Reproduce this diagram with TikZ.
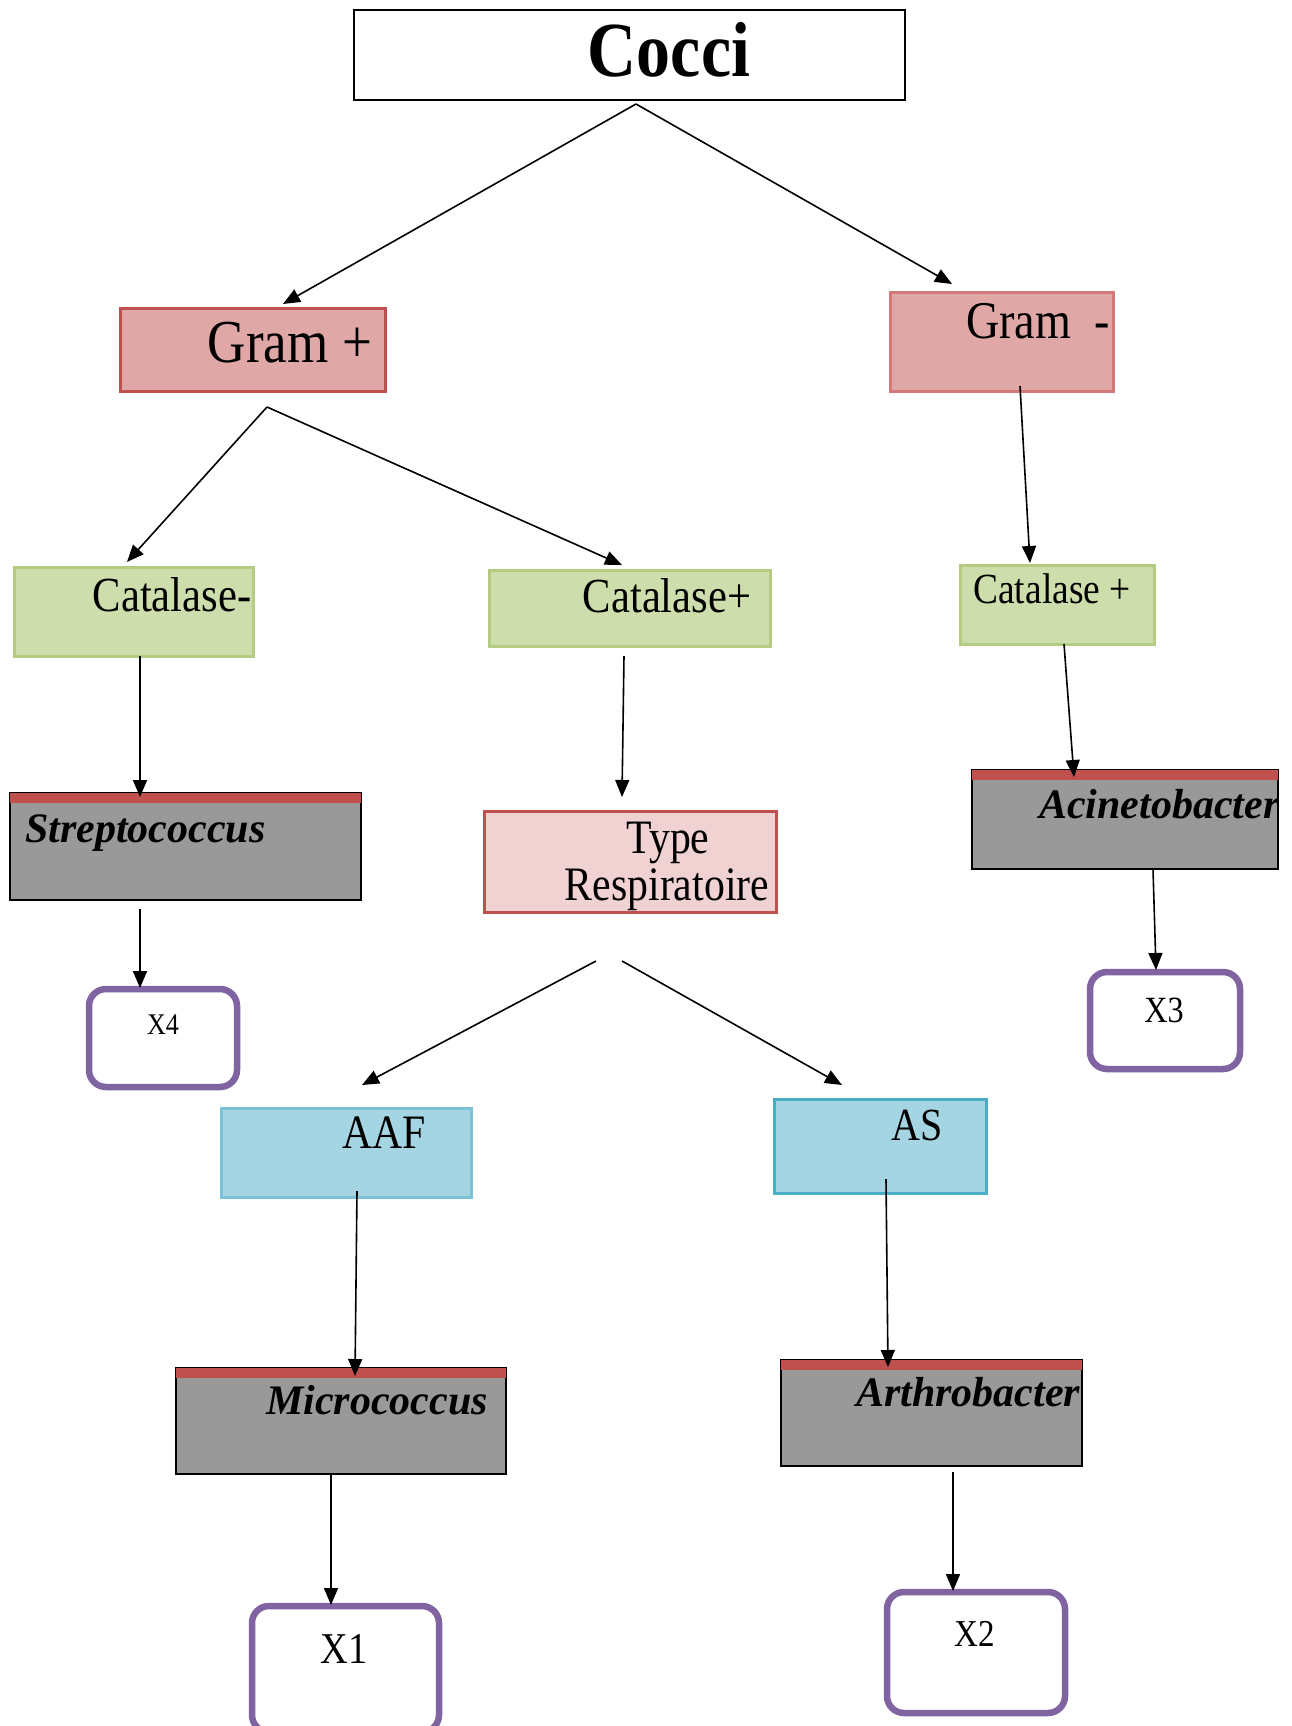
\documentclass[tikz,border=0pt]{standalone}
\usepackage{fontspec}
\setmainfont{Liberation Serif}[FakeStretch=0.87]
\newfontfamily\genusfont{Liberation Serif}
\usetikzlibrary{arrows.meta}
\definecolor{gramfill}{HTML}{E0A7A7}
\definecolor{gramline}{HTML}{C0504D}
\definecolor{gramlite}{HTML}{D47878}
\definecolor{catafill}{HTML}{CEDDAC}
\definecolor{cataline}{HTML}{B3CC82}
\definecolor{respfill}{HTML}{F0D2D3}
\definecolor{oxyfill}{HTML}{A5D5E2}
\definecolor{oxyline}{HTML}{4BACC6}
\definecolor{oxylite}{HTML}{7CC2D6}
\definecolor{genusgray}{HTML}{999999}
\definecolor{resline}{HTML}{8064A2}
\newcommand{\fs}[1]{\fontsize{#1}{1.2\dimexpr#1pt\relax}\selectfont}

\begin{document}
\begin{tikzpicture}[x=1pt,y=-1pt,
  box/.style={rectangle,draw,inner sep=0pt,outer sep=0pt},
  gram/.style={box,fill=gramfill,draw=gramline,line width=3pt},
  cata/.style={box,fill=catafill,draw=cataline,line width=3pt},
  resp/.style={box,fill=respfill,draw=gramline,line width=3pt},
  oxy/.style={box,fill=oxyfill,draw=oxyline,line width=3pt},
  genus/.style={box,fill=genusgray,draw=black,line width=1.3pt,
    postaction={path picture={\fill[gramline] ([yshift=1pt]path picture bounding box.north west)
      rectangle ([yshift=-10pt]path picture bounding box.north east);}}},
  result/.style={box,fill=white,draw=resline,line width=6.5pt,rounded corners=17pt},
  lbl/.style={anchor=base,inner sep=0pt},
  genuslbl/.style={anchor=base west,inner sep=0pt,font=\genusfont\fs{42}\bfseries\itshape},
  arr/.style={-{Triangle[length=17pt,width=14pt]},line width=1.6pt}]
\useasboundingbox (0,0) rectangle (1292,1726);
\clip (0,0) rectangle (1292,1726);
\node[box,line width=1.3pt,minimum width=551pt,minimum height=90pt] (cocci) at (629.5,55) {};
\node[lbl,font=\fs{78}\bfseries] (cocci-t) at (669,77) {Cocci};
\node[gram,minimum width=265pt,minimum height=83pt] (gplus) at (252.5,349.5) {};
\node[lbl,font=\fs{61}] (gplus-t) at (290,362) {Gram +};
\node[gram,draw=gramlite,minimum width=223pt,minimum height=99pt] (gminus) at (1001.5,341.5) {};
\node[lbl,font=\fs{53}] (gminus-t) at (1038,338) {Gram\ \ -};
\node[cata,minimum width=239pt,minimum height=89pt] (catm) at (133.5,611.5) {};
\node[lbl,font=\fs{49}] (catm-t) at (172,611) {Catalase-};
\node[cata,minimum width=281pt,minimum height=76pt] (catp) at (629.5,608) {};
\node[lbl,font=\fs{49}] (catp-t) at (667,612) {Catalase+};
\node[cata,minimum width=194pt,minimum height=79pt] (catr) at (1057,604.5) {};
\node[lbl,font=\fs{43}] (catr-t) at (1052,603) {Catalase +};
\node[genus,minimum width=351pt,minimum height=107pt] (strep) at (185.5,846.5) {};
\node[genuslbl] (strep-t) at (25,842) {Streptococcus};
\node[genus,minimum width=306pt,minimum height=99pt] (acin) at (1125,819.5) {};
\begin{scope}
\clip (acin.north west) rectangle (acin.south east);
\node[genuslbl] (acin-t) at (1039,818) {Acinetobacter};
\end{scope}
\node[resp,minimum width=292pt,minimum height=101pt] (type) at (630,861.5) {};
\node[lbl,font=\fs{48}] (type-t1) at (668,853) {Type};
\node[lbl,font=\fs{48}] (type-t2) at (667,900) {Respiratoire};
\node[oxy,draw=oxylite,minimum width=250pt,minimum height=89pt] (aaf) at (346,1152.5) {};
\node[lbl,font=\fs{48}] (aaf-t) at (384,1148) {AAF};
\node[oxy,minimum width=212pt,minimum height=94pt] (as) at (880,1146) {};
\node[lbl,font=\fs{46}] (as-t) at (917,1140) {AS};
\node[genus,minimum width=330pt,minimum height=106pt] (micro) at (341,1421) {};
\node[genuslbl] (micro-t) at (266,1414) {Micrococcus};
\node[genus,minimum width=301pt,minimum height=106pt] (arthro) at (931.5,1413) {};
\node[genuslbl] (arthro-t) at (856,1406) {Arthrobacter};
\node[result,minimum width=148pt,minimum height=98pt] (x4) at (163,1038) {};
\node[lbl,font=\fs{30}] (x4-t) at (163,1034) {X4};
\node[result,minimum width=150pt,minimum height=97pt] (x3) at (1165,1020.5) {};
\node[lbl,font=\fs{37}] (x3-t) at (1164,1022) {X3};
\node[result,minimum width=187pt,minimum height=126pt] (x1) at (345.5,1669) {};
\node[lbl,font=\fs{44}] (x1-t) at (344,1663) {X1};
\node[result,minimum width=178pt,minimum height=121pt] (x2) at (976,1652.5) {};
\node[lbl,font=\fs{38}] (x2-t) at (975,1646) {X2};
\coordinate (cfork) at (636,104);
\coordinate (gfork) at (267,407);
\coordinate (tfork1) at (596,961);
\coordinate (tfork2) at (622,961);
\draw[arr] (cfork) -- ([xshift=30.5pt,yshift=4pt]gplus.north);
\draw[arr] (cfork) -- ([xshift=-49.5pt,yshift=8pt]gminus.north);
\draw[arr] (gfork) -- ([xshift=-6.5pt,yshift=5pt]catm.north);
\draw[arr] (gfork) -- ([xshift=-7.5pt,yshift=5pt]catp.north);
\draw[arr] ([xshift=18.5pt,yshift=5pt]gminus.south) -- ([xshift=-27pt,yshift=2pt]catr.north);
\draw[arr] ([xshift=6.5pt]catm.south) -- ([xshift=-45.5pt,yshift=-4pt]strep.north);
\draw[arr] ([xshift=-45.5pt,yshift=-9pt]strep.south) -- ([xshift=-23pt,yshift=1pt]x4.north);
\draw[arr] ([xshift=-5.5pt,yshift=-10pt]catp.south) -- ([xshift=-8pt,yshift=14pt]type.north);
\draw[arr] (tfork1) -- ([xshift=16pt,yshift=23pt]aaf.north);
\draw[arr] (tfork2) -- ([xshift=-38pt,yshift=14pt]as.north);
\draw[arr] ([xshift=11pt,yshift=6pt]aaf.south) -- ([xshift=14pt,yshift=-8pt]micro.north);
\draw[arr] ([xshift=-10pt]micro.south) -- ([xshift=-14.5pt,yshift=1pt]x1.north);
\draw[arr] ([xshift=6pt,yshift=14pt]as.south) -- ([xshift=-43.5pt,yshift=-7pt]arthro.north);
\draw[arr] ([xshift=21.5pt,yshift=-6pt]arthro.south) -- ([xshift=-23pt,yshift=1pt]x2.north);
\draw[arr] ([xshift=7pt]catr.south) -- ([xshift=-51pt,yshift=-7pt]acin.north);
\draw[arr] ([xshift=28pt]acin.south) -- ([xshift=-9pt,yshift=2pt]x3.north);
\end{tikzpicture}
\end{document}
